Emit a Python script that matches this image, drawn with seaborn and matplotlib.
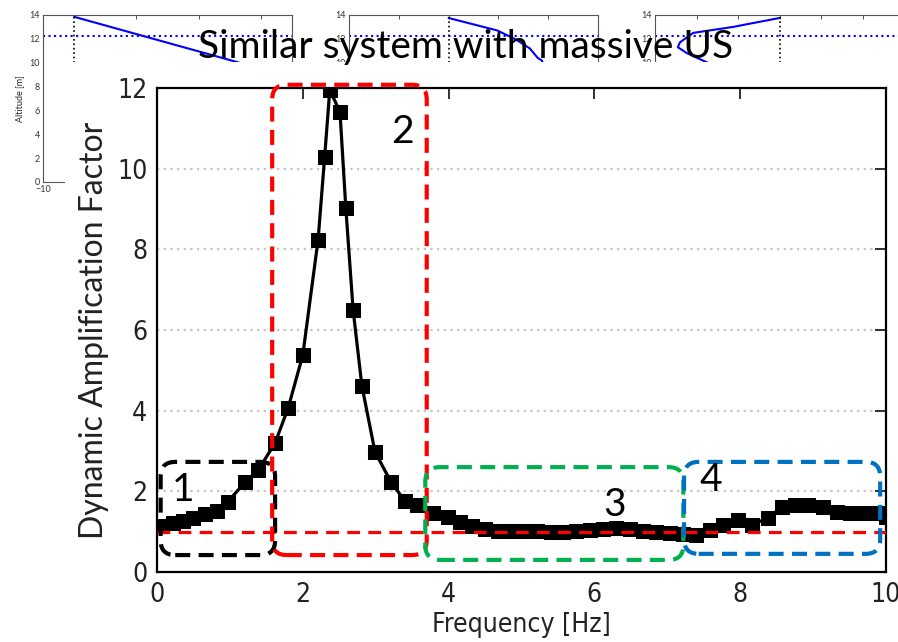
#!/usr/bin/env python3
"""
Dynamic amplification factor vs. frequency
Slide figure: main response curve with the four marked zones and the
three altitude profile insets peeking out at the top
"""

import matplotlib
matplotlib.use('Agg')  # Use non-interactive backend
import matplotlib.pyplot as plt
from matplotlib.patches import FancyBboxPatch, Rectangle
import pandas as pd
import seaborn as sns

# Main response curve
freq = [0.05, 0.22, 0.36, 0.49, 0.66, 0.82, 0.97, 1.21, 1.39, 1.62, 1.80, 2.00,
        2.21, 2.30, 2.37, 2.51, 2.59, 2.69, 2.81, 2.99, 3.21, 3.40, 3.57, 3.79,
        3.99, 4.15, 4.32, 4.50, 4.68, 4.86, 5.03, 5.21, 5.40, 5.57, 5.75, 5.94,
        6.12, 6.30, 6.49, 6.67, 6.85, 7.04, 7.22, 7.40, 7.59, 7.76, 7.97, 8.16,
        8.38, 8.57, 8.75, 8.93, 9.14, 9.33, 9.51, 9.68, 9.88, 10.0]
daf = [1.15, 1.22, 1.27, 1.34, 1.44, 1.51, 1.74, 2.23, 2.53, 3.20, 4.07, 5.38,
       8.24, 10.3, 11.95, 11.41, 9.03, 6.50, 4.62, 2.98, 2.23, 1.76, 1.66, 1.46,
       1.36, 1.24, 1.14, 1.06, 1.02, 1.02, 1.02, 1.02, 1.00, 1.00, 1.02, 1.04,
       1.06, 1.10, 1.06, 1.02, 0.99, 0.96, 0.94, 0.92, 1.04, 1.17, 1.29, 1.17,
       1.34, 1.61, 1.66, 1.66, 1.61, 1.49, 1.46, 1.46, 1.46, 1.37]
reference_level = 1.0

x_ticks = [0, 2, 4, 6, 8, 10]
y_ticks = [0, 2, 4, 6, 8, 10, 12]

# Zones marked on the slide: (x0, y0, x1, y1), colour, label, label position
zone_bounds = [(0.05, 0.42, 1.62, 2.73), (1.58, 0.42, 3.70, 12.08),
               (3.68, 0.30, 7.22, 2.60), (7.23, 0.45, 9.92, 2.73)]
zone_colors = ['black', '#FF0000', '#00B050', '#0070C0']
zone_labels = ['1', '2', '3', '4']
zone_label_pos = [(0.36, 2.03), (3.37, 10.9), (6.27, 1.66), (7.60, 2.28)]

# Altitude profile insets (only their top part is visible)
inset_xlims = [(-10, 30), (-20, 30), (-30, 30)]
inset_xticks = [[-10, 5, 15, 25], [-20, -10, 0, 10, 20, 30],
                [-30, -20, -10, 0, 10, 20, 30]]
inset_yticks = [0, 2, 4, 6, 8, 10, 12, 14]
structure_x = [-5, 0, 0]
water_level = 12.2
profile_x = [[-5, 25],
             [0, 9.8, 13.7, 16.3, 17.9, 18.7, 19.5],
             [0, -11.2, -20.8, -24.0, -24.5, -22.3, -19.2, -16.0]]
profile_y = [[13.85, 9.5],
             [13.75, 12.7, 11.9, 11.2, 10.4, 10.2, 9.5],
             [13.75, 13.0, 12.5, 11.7, 11.3, 10.8, 10.3, 9.8]]

TITLE = 'Similar system with massive US'
SLIDE_FONT = ['Lato', 'DejaVu Sans']


def draw_insets(fig):
    """Small altitude plots along the top edge"""
    lefts = [43 / 898, 349 / 898, 655 / 898]
    for i, left in enumerate(lefts):
        ax = fig.add_axes([left, 1 - 182 / 642, 249 / 898, 167 / 642], zorder=0)
        ax.plot(profile_x[i], profile_y[i], color='blue', lw=1.5)
        ax.axhline(water_level, color='blue', ls=':', lw=1.5)
        ax.axvline(structure_x[i], color='black', ls=':', lw=1.2)
        ax.set_xlim(inset_xlims[i])
        ax.set_ylim(0, 14)
        ax.set_xticks(inset_xticks[i])
        ax.set_yticks(inset_yticks)
        ax.tick_params(direction='in', length=3, width=0.6, top=True, right=True,
                       labelsize=6.5, pad=2, colors='#333333')
        for spine in ax.spines.values():
            spine.set_color('#555555')
            spine.set_linewidth(0.8)
        if i == 0:
            # only the leftmost label shows past the chart
            ax.set_xticklabels(['\u221210'] + [''] * (len(inset_xticks[i]) - 1))
            ax.set_ylabel('Altitude [m]', fontsize=6.5, labelpad=4)
        else:
            ax.set_xticklabels([])


def draw_main(fig):
    """Response curve with the zone boxes"""
    ax = fig.add_axes([157 / 898, 1 - 572 / 642, 729 / 898, 484 / 642], zorder=2)
    df = pd.DataFrame({'freq': freq, 'daf': daf})

    ax.yaxis.grid(True, color='#C4C4C4', ls=(0, (1, 2)), lw=1.6)
    ax.set_axisbelow(True)

    sns.lineplot(data=df, x='freq', y='daf', ax=ax, color='black', lw=2.3,
                 marker='s', markersize=9.5, markeredgecolor='black', zorder=3)
    ax.axhline(reference_level, color='#FF0000', ls=(0, (4, 2.6)), lw=2.3, zorder=4)

    ax.set_xlim(0, 10)
    ax.set_ylim(0, 12)
    ax.set_xticks(x_ticks)
    ax.set_yticks(y_ticks)
    ax.tick_params(direction='in', length=8, width=1.3, top=True, right=True,
                   labelsize=19, pad=7, colors='#222222')
    for label in ax.get_xticklabels() + ax.get_yticklabels():
        label.set_fontstretch('condensed')
        label.set_family('DejaVu Sans')
    for spine in ax.spines.values():
        spine.set_color('black')
        spine.set_linewidth(1.6)

    ax.set_xlabel('Frequency [Hz]', fontsize=19, family='DejaVu Sans',
                  fontstretch='condensed', color='#222222', labelpad=3)
    ax.set_ylabel('Dynamic Amplification Factor', fontsize=23, family=SLIDE_FONT,
                  color='#222222', labelpad=6)

    # keep the rounded corners circular on screen
    fig.canvas.draw()
    bbox = ax.get_window_extent()
    aspect = (bbox.width / 10) / (bbox.height / 12)

    for (x0, y0, x1, y1), color, text, (tx, ty) in zip(zone_bounds, zone_colors,
                                                     zone_labels, zone_label_pos):
        box = FancyBboxPatch((x0, y0), x1 - x0, y1 - y0,
                             boxstyle='round,pad=0,rounding_size=0.2',
                             mutation_aspect=aspect, transform=ax.transData,
                             fill=False, ec=color, lw=3.0, ls=(0, (3.6, 2.0)),
                             clip_on=False, zorder=6)
        ax.add_patch(box)
        ax.text(tx, ty, text, fontsize=28, family=SLIDE_FONT, color='black',
                ha='center', va='center', zorder=7)
    return ax


def main():
    sns.set_theme(style='white')
    plt.rcParams['font.family'] = SLIDE_FONT

    fig = plt.figure(figsize=(8.98, 6.42), dpi=100)
    draw_insets(fig)

    # the chart screenshot sits on top of the insets
    fig.add_artist(Rectangle((65 / 898, 0), 1, 1 - 62 / 642, transform=fig.transFigure,
                             facecolor='white', edgecolor='none', zorder=1))
    draw_main(fig)
    fig.text(466 / 898, 1 - 47 / 642, TITLE, fontsize=28, family=SLIDE_FONT,
             ha='center', va='center', color='black', zorder=5)

    fig.savefig('out.png', dpi=100)
    plt.close(fig)
    print("Saved out.png")


if __name__ == "__main__":
    main()
